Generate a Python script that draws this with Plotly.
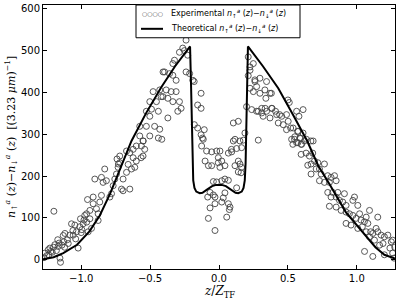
import plotly.graph_objects as go

# Experimental points (z / Z_TF, density)
exp_z = [
 -1.263,-1.239,-1.227,-1.191,-1.167,-1.154,-1.150,-1.126,-1.118,-1.094,-1.082,-1.058,-1.198,-1.022,-1.034,-1.010,
 -1.070,-1.046,-0.986,-0.974,-0.961,-0.937,-0.949,-0.925,-0.937,-0.913,-0.954,-0.913,-0.889,-0.877,-0.877,-0.865,
 -0.853,-0.901,-0.853,-0.841,-0.817,-0.829,-0.792,-0.780,-0.768,-0.756,-0.744,-0.732,-0.720,-0.707,-0.696,-0.696,
 -0.671,-0.659,-0.647,-0.635,-0.623,-0.611,-0.600,-0.720,-0.671,-0.647,-0.623,-0.600,-0.563,-0.551,-0.539,-0.551,
 -1.250,-1.220,-1.200,-1.180,-1.160,-1.140,-1.120,-1.100,-1.060,-1.040,-1.000,-0.980,-1.270,-1.235,-1.210,-1.170,
 -1.130,-1.005,-0.995,-0.960,-0.565,-0.740,-0.730,
 -0.406,-0.478,-0.430,-0.502,-0.454,-0.420,-0.527,-0.490,-0.440,-0.502,-0.575,-0.527,-0.467,-0.430,-0.575,-0.502,
 -0.440,-0.550,-0.415,
 -0.239,-0.263,-0.251,-0.287,-0.227,-0.323,-0.335,-0.395,-0.359,-0.335,-0.239,-0.213,-0.311,-0.383,-0.347,-0.311,
 -0.407,-0.371,-0.335,-0.287,-0.275,-0.371,-0.299,
 -0.190,-0.180,-0.130,-0.155,-0.130,-0.179,-0.155,-0.107,-0.130,-0.120,
 -0.114,-0.126,-0.090,-0.053,-0.017,0.007,0.090,0.116,0.104,0.177,0.128,0.164,0.068,0.092,
 -0.101,-0.077,-0.053,-0.005,-0.005,0.020,0.007,0.043,0.116,0.152,0.140,0.164,0.140,0.160,
 -0.041,-0.017,0.020,0.043,0.068,0.128,
 -0.065,-0.041,-0.082,-0.029,0.031,0.043,0.020,0.068,0.080,-0.029,-0.065,0.075,-0.077,0.056,-0.029,
 0.285,0.212,0.249,0.225,0.212,0.261,0.297,0.273,0.249,0.297,0.333,0.345,0.237,0.273,0.310,0.345,0.382,0.320,
 0.370,0.418,0.140,0.104,0.188,0.152,
 0.225,0.260,0.225,0.370,0.340,0.380,0.500,0.510,0.200,0.285,0.335,0.385,0.410,0.310,0.455,0.490,0.563,0.610,
 0.430,0.466,0.502,0.538,0.490,0.575,0.587,0.550,0.527,0.563,0.635,0.683,0.600,
 0.440,0.580,0.520,0.570,0.610,0.620,0.667,
 0.536,0.572,0.596,0.548,0.590,0.596,0.632,0.656,0.680,0.644,0.668,0.693,0.717,0.705,0.668,0.729,0.741,0.765,
 0.789,0.813,0.838,0.729,0.765,0.801,0.850,0.789,0.825,0.862,0.910,0.813,0.850,0.874,0.801,0.898,0.922,0.983,
 0.971,1.007,0.850,0.886,0.922,0.946,0.971,1.020,0.995,1.030,0.922,0.958,1.068,1.092,1.055,1.080,1.152,1.007,
 1.040,1.068,1.100,1.140,1.152,1.176,1.200,1.225,1.250,1.260,1.165,1.190,1.240,1.128,1.092,1.116,1.056,1.116,
 1.200,1.260,1.270,1.275
]
exp_n = [
 16,24,28,36,32,4,-6,43,63,39,59,59,116,28,67,79,
 86,83,86,106,110,118,67,75,98,134,144,150,122,110,94,138,
 154,193,197,185,189,217,150,158,177,193,205,221,232,169,165,193,
 209,228,169,217,244,221,236,248,260,256,264,272,272,248,264,284,
 10,20,30,22,40,35,30,48,70,50,65,95,5,12,18,48,
 58,98,72,90,244,241,229,
 449,402,406,378,378,390,355,360,355,343,319,319,319,312,296,296,
 291,284,288,
 525,506,500,496,489,477,469,449,445,441,449,445,429,406,402,402,
 390,386,378,378,362,339,355,
 429,426,398,370,362,323,315,311,299,291,
 288,272,260,258,260,260,264,288,284,286,266,268,255,258,
 236,225,225,244,232,236,221,225,225,229,236,221,210,208,
 187,186,189,193,190,172,
 161,155,150,150,148,160,138,134,126,134,124,120,99,102,70,
 286,485,469,453,440,426,434,414,402,398,406,426,359,355,362,355,362,343,
 339,347,331,327,303,284,
 461,430,410,398,386,398,382,376,366,355,362,362,355,351,343,347,355,359,
 327,323,331,315,311,307,291,294,288,280,288,284,276,
 347,343,315,307,303,284,284,
 276,280,276,288,290,252,255,248,255,226,229,236,232,217,205,217,205,229,
 201,197,201,189,185,185,189,161,161,161,158,150,150,142,128,138,130,150,
 142,130,126,118,114,110,106,110,99,95,87,83,102,118,91,87,102,75,
 79,67,67,75,67,59,55,59,43,47,35,39,28,47,55,63,20,8,
 12,16,4,30
]

# Theoretical curve
theo_z = [-1.277, -1.20, -1.13, -1.03, -0.94, -0.865, -0.79, -0.72, -0.635, -0.53, -0.42, -0.32, -0.21,
          -0.203, -0.198, -0.193, -0.187, -0.178, -0.165, -0.14, -0.12, -0.09, -0.05, -0.02, 0.0,
          0.02, 0.05, 0.09, 0.12, 0.14, 0.165, 0.178, 0.187, 0.193, 0.198, 0.203,
          0.21, 0.32, 0.43, 0.54, 0.64, 0.72, 0.80, 0.92, 1.04, 1.135, 1.20, 1.277]
theo_n = [1, 6, 16, 36, 68, 106, 158, 215, 284, 350, 412, 462, 510,
          420, 320, 230, 190, 172, 163, 159, 160, 167, 176, 179, 179,
          179, 176, 167, 160, 159, 163, 172, 190, 230, 320, 420,
          510, 462, 410, 345, 284, 225, 182, 114, 67, 30, 12, 3]

x_ticks = [-1.0, -0.5, 0.0, 0.5, 1.0]
x_ticktext = ["\u22121.0", "\u22120.5", "0.0", "0.5", "1.0"]
y_ticks = [0, 100, 200, 300, 400, 500, 600]
legend_labels = ["Experimental", "Theoretical"]

dens = "<i>n</i><sub>\u2191</sub><sup><i>a</i></sup> (<i>z</i>)\u2212<i>n</i><sub>\u2193</sub><sup><i>a</i></sup> (<i>z</i>)"

fig = go.Figure()
fig.add_trace(go.Scatter(
    x=exp_z, y=exp_n, mode="markers", name=legend_labels[0] + " " + dens,
    marker=dict(symbol="circle-open", size=6, color="#454545", line=dict(width=0.9, color="#454545")),
))
fig.add_trace(go.Scatter(
    x=theo_z, y=theo_n, mode="lines", name=legend_labels[1] + " " + dens,
    line=dict(color="black", width=2),
))

# plot-area pixel geometry -> paper coords helpers (for legend box)
L, R, T, B = 43, 395, 3, 269
def px(x):
    return (x - L) / (R - L)
def py(y):
    return (B - y) / (B - T)

row_y = [12, 27]
annotations = [
    dict(text="<i>z</i>/<i>Z</i><sub>TF</sub>", xref="paper", yref="paper", x=0.5, y=0,
         yshift=-13, showarrow=False, xanchor="center", yanchor="top",
         font=dict(family="DejaVu Serif", size=12, color="black")),
    dict(text=dens + "  [(3.23 <i>\u03bcm</i>)<sup>\u22121</sup>]", xref="paper", yref="paper",
         x=0, y=0.5, xshift=-32, textangle=-90, showarrow=False,
         xanchor="center", yanchor="middle",
         font=dict(family="DejaVu Serif", size=11, color="black")),
    dict(text="\u25cb\u25cb\u25cb\u25cb", xref="paper", yref="paper", x=px(152), y=py(row_y[0]),
         showarrow=False, xanchor="center", yanchor="middle",
         font=dict(family="DejaVu Sans", size=6, color="#454545")),
]
for lab, ry in zip(legend_labels, row_y):
    annotations.append(dict(text=lab + " " + dens, xref="paper", yref="paper",
                            x=px(169), y=py(ry), showarrow=False, xanchor="left", yanchor="middle",
                            font=dict(family="DejaVu Sans", size=8, color="black")))

shapes = [
    dict(type="rect", xref="paper", yref="paper", x0=px(136), x1=px(300), y0=py(36), y1=py(T),
         line=dict(color="black", width=1), fillcolor="white", layer="above"),
    dict(type="line", xref="paper", yref="paper", x0=px(141), x1=px(163), y0=py(row_y[1]), y1=py(row_y[1]),
         line=dict(color="black", width=2), layer="above"),
]

axis_common = dict(showline=True, linecolor="black", linewidth=1, mirror="ticks",
                   ticks="inside", ticklen=4, tickcolor="black", showgrid=False, zeroline=False,
                   tickfont=dict(family="DejaVu Sans", size=10, color="black"))
fig.update_layout(
    width=399, height=299,
    margin=dict(l=L, r=399 - R, t=T, b=299 - B),
    paper_bgcolor="white", plot_bgcolor="white",
    showlegend=False,
    xaxis=dict(range=[-1.277, 1.277], tickvals=x_ticks, ticktext=x_ticktext, **axis_common),
    yaxis=dict(range=[-22, 609], tickvals=y_ticks, **axis_common),
    annotations=annotations,
    shapes=shapes,
)
fig.write_html("out.html", config={"displayModeBar": False},
               post_script="document.body.style.margin='0';document.body.style.padding='0';")
